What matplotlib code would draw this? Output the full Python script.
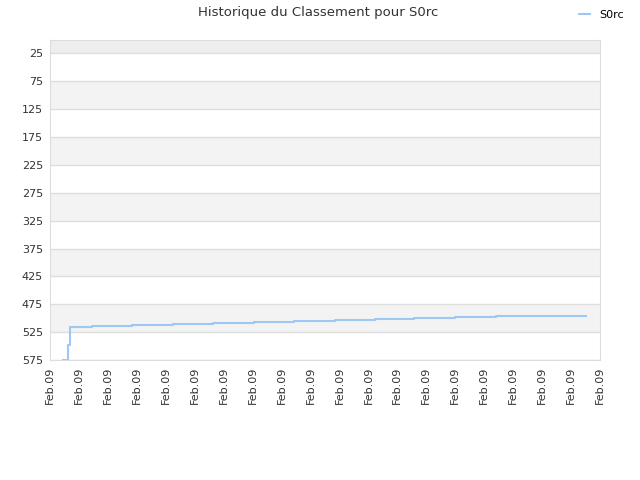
import matplotlib
matplotlib.use("Agg")
import matplotlib.pyplot as plt
import numpy as np

# x in arbitrary time units (one tick per unit), y = rank
step_x = [0.44, 0.63, 0.68, 1.44, 2.83, 4.24, 5.63, 7.03, 8.42, 9.83, 11.21, 12.59, 14.0, 15.4, 18.5]
rank = [575, 548, 516, 514, 512.5, 510.5, 509, 507, 505, 503.5, 501.5, 500, 498, 496, 496]

x_ticks = list(range(20))
x_labels = ["Feb.09"] * 20
y_ticks = [25, 75, 125, 175, 225, 275, 325, 375, 425, 475, 525, 575]

line_col = "#9dc8f3"
txt_col = "#333333"

fig = plt.figure(figsize=(6.4, 4.8), dpi=100)
ax = fig.add_axes([50 / 640, 1 - 360 / 480, 550 / 640, 320 / 480])

# alternating background bands
ax.axhspan(1, 25, color="#eeeeee", zorder=0, lw=0)
for lo in range(75, 575, 100):
    ax.axhspan(lo, lo + 50, color="#f3f3f3", zorder=0, lw=0)

ax.step(step_x, rank, where="post", color=line_col, lw=1.5, label="S0rc", zorder=3)

ax.set_ylim(575, 1)
ax.set_xlim(0, 19)
ax.set_yticks(y_ticks)
ax.set_xticks(x_ticks)
ax.set_xticklabels(x_labels, rotation=90)
ax.tick_params(length=0, labelsize=8, colors=txt_col, pad=5)
ax.grid(axis="y", color="#dedede", lw=1)
ax.set_axisbelow(True)
for s in ax.spines.values():
    s.set_color("#dddddd")

fig.text(0.497, 0.987, "Historique du Classement pour S0rc", ha="center", va="top",
         fontsize=9.5, color=txt_col)
fig.legend(loc="upper right", bbox_to_anchor=(0.99, 1.0), frameon=False, fontsize=8,
           handlelength=1.0, handletextpad=0.8)

fig.savefig("out.png", dpi=100)
